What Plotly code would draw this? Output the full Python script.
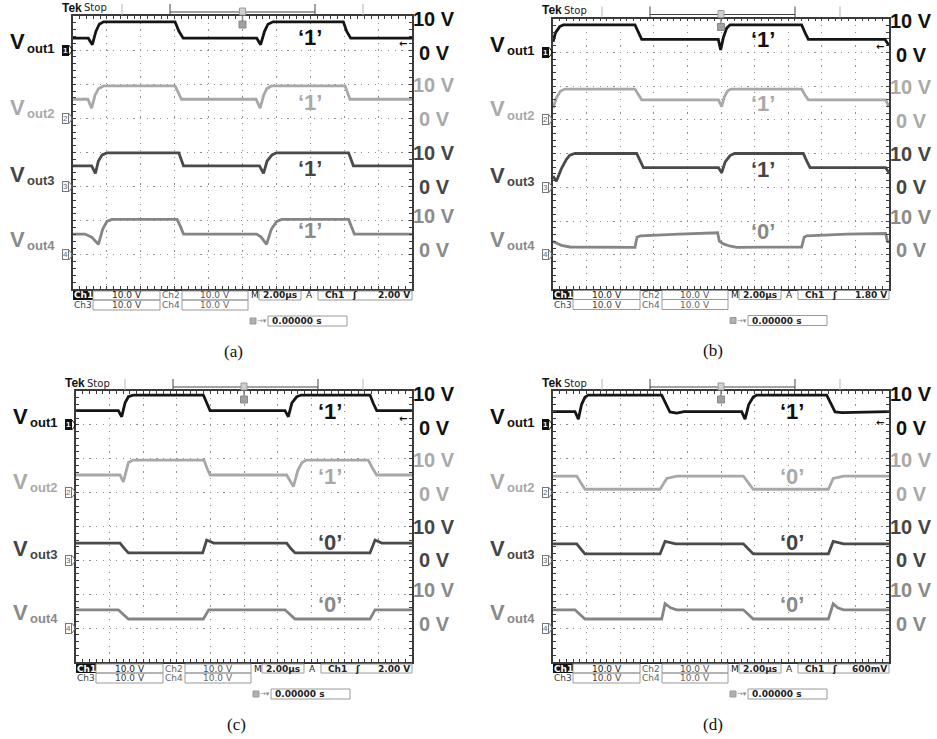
import plotly.graph_objects as go

W, H = 937, 739

# ---------------- data: time (µs) / voltage (V) breakpoints read from the four screens
# (a) all outputs '1'
a_t1 = [-10, -9.1, -8.86, -8.65, -8.45, -8.2, -3.98, -3.75, -3.5, 0.84, 1.07, 1.3, 1.5, 1.8, 5.95, 6.15, 6.38, 10]
a_v1 = [3.5, 3.5, 1.6, 5.5, 7.6, 8.3, 8.3, 5.5, 3.5, 3.5, 1.6, 5.5, 7.6, 8.3, 8.3, 5.5, 3.5, 3.5]
a_t2 = [-10, -9.12, -8.9, -8.7, -8.5, -8.2, -3.98, -3.8, -3.6, 0.8, 1.04, 1.25, 1.43, 1.7, 6.05, 6.2, 6.34, 10]
a_v2 = [5.6, 5.6, 3.0, 6.8, 8.7, 9.5, 9.5, 7.5, 5.6, 5.6, 3.0, 6.8, 8.7, 9.5, 9.5, 7.5, 5.6, 5.6]
a_t3 = [-10, -8.9, -8.68, -8.5, -8.28, -8.0, -3.76, -3.6, -3.48, 1.0, 1.24, 1.45, 1.74, 2.0, 6.26, 6.4, 6.54, 10]
a_v3 = [6.1, 6.1, 3.9, 7.5, 9.3, 9.9, 9.9, 8.0, 6.1, 6.1, 3.9, 7.5, 9.3, 9.9, 9.9, 8.0, 6.1, 6.1]
a_t4 = [-10, -9.29, -8.9, -8.5, -8.25, -8.0, -7.7, -3.86, -3.65, -3.48, 0.84, 1.1, 1.42, 1.7, 2.02, 2.3, 6.26, 6.45, 6.6, 10]
a_v4 = [6.1, 6.1, 5.2, 3.1, 7.5, 9.8, 10.4, 10.4, 8.2, 6.1, 6.1, 5.2, 3.1, 7.5, 9.8, 10.4, 10.4, 8.2, 6.1, 6.1]

# (b) outputs '1','1','1','0'
b_t1 = [-10, -9.85, -9.6, -9.39, -5.12, -4.92, -4.72, -0.16, -0.02, 0.15, 0.34, 0.54, 4.8, 5.0, 5.2, 9.76, 10]
b_v1 = [3.1, 5.8, 7.6, 8.1, 8.1, 5.8, 3.8, 3.8, 0.7, 4.5, 7.2, 8.1, 8.1, 5.8, 3.8, 3.8, 2.0]
b_t2 = [-10, -9.8, -9.55, -9.3, -5.12, -4.92, -4.72, -0.15, 0.04, 0.2, 0.4, 0.6, 4.8, 5.0, 5.2, 9.8, 10]
b_v2 = [3.5, 6.5, 8.5, 9.1, 9.1, 7.3, 5.9, 5.9, 3.9, 6.8, 8.6, 9.1, 9.1, 7.3, 5.9, 5.9, 3.9]
b_t3 = [-10, -9.8, -9.5, -9.2, -9.0, -8.7, -5.02, -4.82, -4.62, -0.15, 0.04, 0.25, 0.54, 0.8, 4.9, 5.1, 5.3, 9.8, 10]
b_v3 = [3.3, 1.8, 5.5, 8.3, 9.5, 10.0, 10.0, 7.8, 5.8, 5.8, 4.3, 7.5, 9.4, 10.0, 10.0, 7.8, 5.8, 5.8, 4.3]
b_t4 = [-10, -9.5, -9.0, -5.12, -5.0, -4.8, -2.5, -0.2, -0.1, 0.14, 0.5, 0.94, 4.8, 4.95, 5.1, 7.5, 9.8, 9.9, 10]
b_v4 = [3.9, 2.8, 2.3, 2.2, 5.2, 5.6, 6.1, 6.5, 4.0, 3.2, 2.6, 2.2, 2.3, 5.2, 5.6, 6.1, 6.3, 4.0, 3.6]

# (c) outputs '1','1','0','0'
c_t1 = [-10, -7.48, -7.28, -7.08, -6.88, -6.6, -2.42, -2.2, -2.02, 2.44, 2.64, 2.85, 3.14, 3.4, 7.5, 7.7, 7.9, 10]
c_v1 = [4.2, 4.2, 2.4, 6.5, 8.3, 8.8, 8.8, 6.3, 4.2, 4.2, 2.4, 6.5, 8.3, 8.8, 8.8, 6.3, 4.2, 4.2]
c_t2 = [-10, -7.38, -7.18, -7.0, -6.88, -6.6, -2.38, -2.2, -2.02, 2.54, 2.94, 3.2, 3.44, 3.7, 7.4, 7.65, 7.9, 10]
c_v2 = [5.2, 5.2, 3.2, 7.0, 8.9, 9.6, 9.6, 7.2, 5.2, 5.2, 1.8, 6.5, 8.8, 9.6, 9.6, 7.2, 5.2, 5.2]
c_t3 = [-10, -7.38, -7.1, -6.88, -2.46, -2.22, -1.8, 2.54, 2.8, 3.04, 7.5, 7.8, 8.2, 10]
c_v3 = [5.1, 5.1, 3.4, 2.2, 2.2, 6.0, 5.1, 5.1, 3.4, 2.2, 2.2, 6.0, 5.1, 5.1]
c_t4 = [-10, -7.48, -7.15, -6.88, -2.42, -2.1, 2.44, 2.75, 3.04, 7.5, 7.8, 10]
c_v4 = [5.4, 5.4, 3.9, 2.7, 2.7, 5.4, 5.4, 3.9, 2.7, 2.7, 5.4, 5.4]

# (d) outputs '1','0','0','0'
d_t1 = [-10, -8.69, -8.49, -8.3, -8.1, -7.9, -3.53, -3.3, -3.04, -2.64, -2.2, 1.23, 1.43, 1.65, 1.92, 2.12, 6.29, 6.55, 6.79, 7.2, 10]
d_v1 = [3.9, 3.9, 1.7, 6.0, 8.2, 8.8, 8.8, 6.2, 3.8, 3.5, 3.9, 3.9, 1.7, 6.0, 8.2, 8.8, 8.8, 6.2, 3.8, 3.6, 3.9]
d_t2 = [-10, -8.59, -8.1, -3.63, -3.23, -2.64, 1.33, 1.92, 6.39, 6.68, 7.3, 10]
d_v2 = [4.9, 4.9, 1.0, 1.0, 4.2, 4.9, 4.9, 1.0, 1.0, 4.2, 4.9, 4.9]
d_t3 = [-10, -8.59, -8.1, -3.63, -3.33, -2.7, 1.33, 1.92, 6.39, 6.68, 7.3, 10]
d_v3 = [4.9, 4.9, 1.9, 1.9, 5.6, 4.9, 4.9, 1.9, 1.9, 5.6, 4.9, 4.9]
d_t4 = [-10, -8.69, -8.1, -3.53, -3.33, -3.0, -2.64, 1.33, 1.92, 6.39, 6.68, 6.95, 7.3, 10]
d_v4 = [5.4, 5.4, 2.7, 2.7, 7.2, 6.0, 5.4, 5.4, 2.7, 2.7, 7.2, 6.0, 5.4, 5.4]

# ---------------- texts
channel_main = "V"
channel_subs = ["out1", "out2", "out3", "out4"]
panel_captions = ["(a)", "(b)", "(c)", "(d)"]
logic_states = [["‘1’", "‘1’", "‘1’", "‘1’"],
                ["‘1’", "‘1’", "‘1’", "‘0’"],
                ["‘1’", "‘1’", "‘0’", "‘0’"],
                ["‘1’", "‘0’", "‘0’", "‘0’"]]
trigger_texts = ["2.00 V", "1.80 V", "2.00 V", "600mV"]
trigger_volts = [2.0, 1.8, 2.0, 0.6]
volt_per_div = 10.0

times = [[a_t1, a_t2, a_t3, a_t4], [b_t1, b_t2, b_t3, b_t4],
         [c_t1, c_t2, c_t3, c_t4], [d_t1, d_t2, d_t3, d_t4]]
volts = [[a_v1, a_v2, a_v3, a_v4], [b_v1, b_v2, b_v3, b_v4],
         [c_v1, c_v2, c_v3, c_v4], [d_v1, d_v2, d_v3, d_v4]]

# ---------------- layout constants (pixels)
boxes = [(73, 412, 16, 289), (553, 889, 18.5, 288.5), (76, 412, 391, 662), (553, 889, 391, 662)]
grounds = [3, 1, -1, -3]                    # channel ground positions (divisions)
trace_colors = ["#151515", "#a8a8a8", "#4a4a4a", "#858585"]
label_colors = ["#111111", "#a9a9a9", "#454545", "#8a8a8a"]
label_x_t = [4.0, 2.5, 5.1, 4.2]
label_y = [3.38, 1.48, -0.47, -2.3]
left_off = [0.24, 0.32, 0.36, 0.46]
right_off = [-0.08, -0.03, 0.0, 0.13]


def fx(x):
    return x / W


def fy(y):
    return 1 - y / H


fig = go.Figure()
layout = dict(width=W, height=H, margin=dict(l=0, r=0, t=0, b=0),
              paper_bgcolor="white", plot_bgcolor="white", showlegend=False,
              font=dict(family="Liberation Sans, Arial, sans-serif"))
shapes = []
annos = []

GRID = "#8f8f8f"
EDGE = "#3a3a3a"
extra = 5
for p, (L, R, T, B) in enumerate(boxes):
    i = p + 1
    sfx = "" if i == 1 else str(i)
    xn, yn = "x" + sfx, "y" + sfx
    divpx = (B - T) / 8.0
    layout["xaxis" + sfx] = dict(domain=[fx(L), fx(R)], anchor=yn, range=[-10, 10], tick0=0, dtick=2,
                                 showticklabels=False, zeroline=False, showline=True, linecolor=EDGE,
                                 linewidth=1.5, mirror="allticks", ticks="inside", ticklen=3, tickcolor=EDGE,
                                 showgrid=True, gridcolor=GRID, gridwidth=1, griddash="1.2px,5.5px",
                                 minor=dict(dtick=0.4, tick0=0, ticks="inside", ticklen=3, tickcolor=EDGE, showgrid=False),
                                 fixedrange=True)
    layout["yaxis" + sfx] = dict(domain=[fy(B), fy(T)], anchor=xn, range=[-4, 4], tick0=0, dtick=1,
                                 showticklabels=False, zeroline=False, showline=True, linecolor=EDGE,
                                 linewidth=1.5, mirror="allticks", ticks="inside", ticklen=3, tickcolor=EDGE,
                                 showgrid=True, gridcolor=GRID, gridwidth=1, griddash="1.2px,5.5px",
                                 minor=dict(dtick=0.2, tick0=0, ticks="inside", ticklen=3, tickcolor=EDGE, showgrid=False),
                                 fixedrange=True)
    # centre cross-hair lines with ticks on both sides
    for side in ("bottom", "top"):
        layout["xaxis%d" % extra] = dict(domain=[fx(L), fx(R)], overlaying=xn, anchor="free",
                                         position=fy((T + B) / 2), side=side, range=[-10, 10],
                                         tick0=0, dtick=2, showticklabels=False, zeroline=False,
                                         showline=True, linecolor="#7a7a7a", linewidth=1, ticks="outside",
                                         ticklen=3, tickcolor="#6a6a6a", showgrid=False,
                                         minor=dict(dtick=0.4, tick0=0, ticks="outside", ticklen=3, tickcolor="#6a6a6a"),
                                         fixedrange=True)
        extra += 1
    for side in ("left", "right"):
        layout["yaxis%d" % extra] = dict(domain=[fy(B), fy(T)], overlaying=yn, anchor="free",
                                         position=fx((L + R) / 2), side=side, range=[-4, 4],
                                         tick0=0, dtick=1, showticklabels=False, zeroline=False,
                                         showline=True, linecolor="#7a7a7a", linewidth=1, ticks="outside",
                                         ticklen=3, tickcolor="#6a6a6a", showgrid=False,
                                         minor=dict(dtick=0.2, tick0=0, ticks="outside", ticklen=3, tickcolor="#6a6a6a"),
                                         fixedrange=True)
        extra += 1

    # waveforms (10 V/div, offset by each channel's ground level)
    for c in range(4):
        ts = times[p][c]
        vs = volts[p][c]
        fig.add_trace(go.Scatter(x=ts, y=[grounds[c] + v / volt_per_div for v in vs], xaxis=xn, yaxis=yn,
                                 mode="lines", line=dict(color=trace_colors[c], width=2.8), hoverinfo="skip"))

    # logic-state labels
    for c in range(4):
        annos.append(dict(x=label_x_t[p], y=label_y[c], xref=xn, yref=yn, text="<b>%s</b>" % logic_states[p][c],
                          showarrow=False, font=dict(size=22, color=label_colors[c]), xanchor="center", yanchor="middle"))

    # left channel names and ground markers
    for c in range(4):
        annos.append(dict(x=fx(L - 64), y=grounds[c] + left_off[c], xref="paper", yref=yn, text="<b>%s</b>" % channel_main,
                          showarrow=False, font=dict(size=22, color=label_colors[c]), xanchor="left", yanchor="middle",
                          borderpad=0))
        annos.append(dict(x=fx(L - 47), y=grounds[c] + left_off[c] - 0.18, xref="paper", yref=yn,
                          text="<b>%s</b>" % channel_subs[c], showarrow=False,
                          font=dict(size=13, color=label_colors[c]), xanchor="left", yanchor="middle", borderpad=0))
        gy = T + (4 - grounds[c]) * divpx
        if c == 0:
            annos.append(dict(x=fx(L - 4), y=grounds[c], xref="paper", yref=yn, text="<b>1</b>", showarrow=False,
                              font=dict(size=8, color="white"), bgcolor="#111111", bordercolor="#111111",
                              borderwidth=1, borderpad=0, xanchor="right", yanchor="middle"))
            tipcol = "#111111"
        else:
            annos.append(dict(x=fx(L - 4), y=grounds[c], xref="paper", yref=yn, text=str(c + 1), showarrow=False,
                              font=dict(size=8, color="#666666"), bgcolor="white", bordercolor="#777777",
                              borderwidth=1, borderpad=0, xanchor="right", yanchor="middle"))
            tipcol = "#777777"
        shapes.append(dict(type="path", xref="paper", yref="paper",
                           path="M %f %f L %f %f L %f %f" % (fx(L - 4), fy(gy - 5), fx(L - 0.5), fy(gy), fx(L - 4), fy(gy + 5)),
                           line=dict(color=tipcol, width=1)))
        # right-hand 10 V / 0 V labels
        annos.append(dict(x=fx(R + 22), y=grounds[c] + 1 + right_off[c], xref="paper", yref=yn, text="<b>10 V</b>",
                          showarrow=False, font=dict(size=20, color=label_colors[c]), xanchor="center", yanchor="middle"))
        annos.append(dict(x=fx(R + 22), y=grounds[c] + right_off[c], xref="paper", yref=yn, text="<b>0 V</b>",
                          showarrow=False, font=dict(size=20, color=label_colors[c]), xanchor="center", yanchor="middle"))

    # trigger level arrow
    annos.append(dict(x=9.85, y=grounds[0] + trigger_volts[p] / volt_per_div, xref=xn, yref=yn, text="<b>←</b>",
                      showarrow=False, font=dict(size=10, color="#111111", family="DejaVu Sans"),
                      xanchor="right", yanchor="middle"))

    # header: Tek Stop, record bar
    annos.append(dict(x=fx(L - 13), y=fy(T - 8), xref="paper", yref="paper", text="<b>Tek</b>", showarrow=False,
                      font=dict(size=12, color="#111111"), xanchor="left", yanchor="middle"))
    annos.append(dict(x=fx(L + 9), y=fy(T - 8), xref="paper", yref="paper", text="Stop", showarrow=False,
                      font=dict(size=10, color="#222222", family="DejaVu Sans"), xanchor="left", yanchor="middle"))
    for xx in (L + 49, R - 49):
        shapes.append(dict(type="line", xref="paper", yref="paper", x0=fx(xx), x1=fx(xx), y0=fy(T - 12), y1=fy(T - 1),
                           line=dict(color="#b5b5b5", width=1)))
    shapes.append(dict(type="line", xref="paper", yref="paper", x0=fx(L + 97), x1=fx(L + 242), y0=fy(T - 4), y1=fy(T - 4),
                       line=dict(color="#444444", width=1)))
    for xx in (L + 97, L + 242):
        shapes.append(dict(type="line", xref="paper", yref="paper", x0=fx(xx), x1=fx(xx), y0=fy(T - 12), y1=fy(T - 1),
                           line=dict(color="#444444", width=1)))
    xc = (L + R) / 2
    shapes.append(dict(type="rect", xref="paper", yref="paper", x0=fx(xc - 3), x1=fx(xc + 3), y0=fy(T - 1), y1=fy(T - 8),
                       line=dict(color="#9a9a9a", width=1), fillcolor="#d0d0d0"))
    shapes.append(dict(type="rect", xref="paper", yref="paper", x0=fx(xc - 3.5), x1=fx(xc + 3.5), y0=fy(T + 12), y1=fy(T + 5),
                       line=dict(color="#8a8a8a", width=1), fillcolor="#a0a0a0"))
    shapes.append(dict(type="line", xref="paper", yref="paper", x0=fx(xc), x1=fx(xc), y0=fy(T), y1=fy(T + 5),
                       line=dict(color="#8a8a8a", width=1.5)))

    # footer read-outs
    def box(x0, x1, y0, y1, fill=None):
        shapes.append(dict(type="rect", xref="paper", yref="paper", x0=fx(x0), x1=fx(x1), y0=fy(y1), y1=fy(y0),
                           line=dict(color="#9a9a9a", width=1), fillcolor=fill if fill else "rgba(0,0,0,0)"))

    def txt(x, y, s, color="#222222", anchor="center", bold=False, size=9):
        annos.append(dict(x=fx(x), y=fy(y), xref="paper", yref="paper", text=("<b>%s</b>" % s) if bold else s,
                          showarrow=False, font=dict(size=size, color=color, family="DejaVu Sans"),
                          xanchor=anchor, yanchor="middle", borderpad=0))

    r1a, r1b, r2b = B + 2, B + 11, B + 21
    r3a, r3b = B + 27, B + 37
    shapes.append(dict(type="rect", xref="paper", yref="paper", x0=fx(L), x1=fx(L + 20), y0=fy(r1b), y1=fy(r1a),
                       line=dict(width=0), fillcolor="#111111"))
    txt(L + 10, (r1a + r1b) / 2, "Ch1", color="white", bold=True)
    box(L + 20, L + 87, r1a, r1b)
    txt(L + 53.5, (r1a + r1b) / 2, "10.0 V")
    txt(L + 98, (r1a + r1b) / 2, "Ch2", color="#666666")
    box(L + 109, L + 175, r1a, r1b)
    txt(L + 142, (r1a + r1b) / 2, "10.0 V", color="#555555")
    txt(L + 181.5, (r1a + r1b) / 2, "M")
    box(L + 186, L + 228, r1a, r1b)
    txt(L + 207, (r1a + r1b) / 2, "2.00µs", bold=True)
    txt(L + 236, (r1a + r1b) / 2, "A")
    box(L + 245, R, r1a, r1b)
    txt(L + 261, (r1a + r1b) / 2, "Ch1", bold=True)
    txt(L + 281, (r1a + r1b) / 2, "ʃ", bold=True)
    txt(R - 1, (r1a + r1b) / 2, trigger_texts[p], anchor="right", bold=True)
    txt(L + 10, (r1b + r2b) / 2, "Ch3", color="#444444")
    box(L + 20, L + 87, r1b, r2b)
    txt(L + 53.5, (r1b + r2b) / 2, "10.0 V", color="#444444")
    txt(L + 98, (r1b + r2b) / 2, "Ch4", color="#666666")
    box(L + 109, L + 175, r1b, r2b)
    txt(L + 142, (r1b + r2b) / 2, "10.0 V", color="#666666")
    shapes.append(dict(type="rect", xref="paper", yref="paper", x0=fx(L + 177), x1=fx(L + 183), y0=fy(r3b - 2), y1=fy(r3a + 2),
                       line=dict(color="#9a9a9a", width=1), fillcolor="#b0b0b0"))
    txt(L + 189, (r3a + r3b) / 2, "→▾", color="#888888", size=7)
    box(L + 195, L + 274, r3a, r3b)
    txt(L + 198, (r3a + r3b) / 2, "0.00000 s", anchor="left", bold=True)

    # caption
    annos.append(dict(x=fx(L + 160), y=fy(B + 62), xref="paper", yref="paper", text=panel_captions[p], showarrow=False,
                      font=dict(size=17, color="#111111", family="Liberation Serif, Times New Roman, serif"),
                      xanchor="center", yanchor="middle"))

layout["shapes"] = shapes
layout["annotations"] = annos
fig.update_layout(**layout)
fig.write_html("out.html", config={"displayModeBar": False},
               post_script="document.body.style.margin='0px';document.body.style.overflow='hidden';")
